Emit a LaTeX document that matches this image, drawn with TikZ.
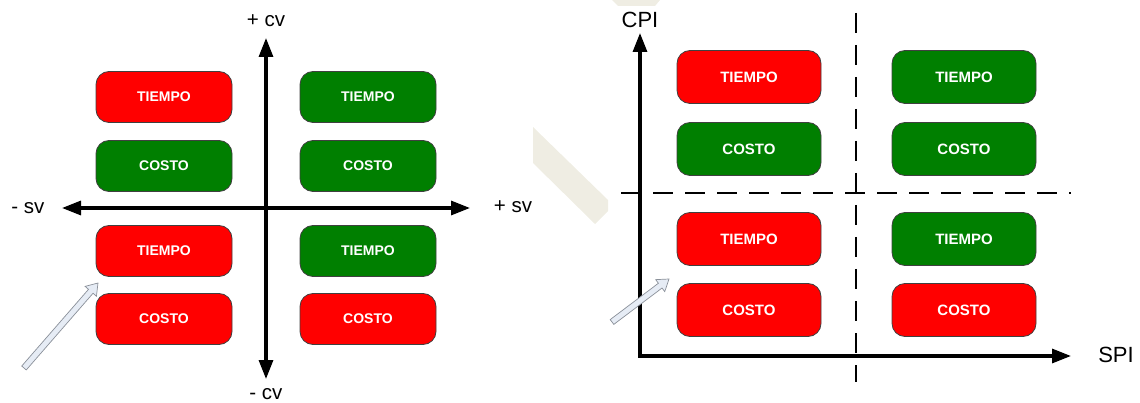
\documentclass[tikz,border=0pt]{standalone}
\usepackage{fontspec}
\setmainfont{Liberation Sans}
\usetikzlibrary{arrows.meta,calc}
\definecolor{boxred}{HTML}{FF0000}
\definecolor{boxgreen}{HTML}{007F00}
\definecolor{hintfill}{HTML}{E6ECF5}
\definecolor{hintline}{HTML}{8A9099}
\definecolor{paper}{HTML}{EFEDE3}

% block arrow drawn from a tail coordinate to a head coordinate
\newcommand{\blockarrow}[2]{%
  \path[hint] ($(#1)!3pt!90:(#2)$)
    -- ($($(#2)!11pt!(#1)$)!3pt!-90:(#1)$)
    -- ($($(#2)!11pt!(#1)$)!7.5pt!-90:(#1)$)
    -- (#2)
    -- ($($(#2)!11pt!(#1)$)!7.5pt!90:(#1)$)
    -- ($($(#2)!11pt!(#1)$)!3pt!90:(#1)$)
    -- ($(#1)!3pt!-90:(#2)$) -- cycle;}

\begin{document}
\begin{tikzpicture}[x=1pt,y=-1pt,
  card/.style={draw=black!75, line width=0.8pt, rounded corners=13pt,
    inner sep=0pt, text=white, font=\fontsize{14}{14}\selectfont\bfseries},
  smallcard/.style={card, minimum width=136pt, minimum height=51pt},
  bigcard/.style={card, minimum width=144pt, minimum height=53pt,
    font=\fontsize{15}{15}\selectfont\bfseries},
  redfill/.style={fill=boxred},
  greenfill/.style={fill=boxgreen},
  mainaxis/.style={line width=3.2pt,
    {Triangle[length=19pt,width=14pt]}-{Triangle[length=19pt,width=14pt]}},
  divider/.style={line width=2pt, dash pattern=on 20pt off 12pt},
  axislabel/.style={inner sep=0pt, font=\fontsize{20.5}{20.5}\selectfont},
  biglabel/.style={inner sep=0pt, font=\fontsize{22}{22}\selectfont},
  hint/.style={fill=hintfill, draw=hintline, line width=0.7pt, line join=miter},
]
\useasboundingbox (0,0) rectangle (1140,403);

% faint background mark
\fill[paper] (533,127) -- (608,200) -- (608,211) -- (595,224) -- (533,163) -- cycle;
\fill[paper] (612,0) -- (660,0) -- (655,6) -- (618,6) -- cycle;

% ---------- left panel: cv / sv ----------
\coordinate (ytop) at (266,38);
\coordinate (ybot) at (266,379);
\coordinate (xleft) at (62,208);
\coordinate (xright) at (470,208);
\draw[mainaxis] (ybot) -- (ytop);
\draw[mainaxis] (xleft) -- (xright);

\node[axislabel] (pcv) at (266,21) {+ cv};
\node[axislabel] (mcv) at (266,394) {- cv};
\node[axislabel] (msv) at (28,208) {- sv};
\node[axislabel] (psv) at (513,207) {+ sv};

\node[smallcard, redfill]   (la1) at (164,97)  {TIEMPO};
\node[smallcard, greenfill] (la2) at (164,166) {COSTO};
\node[smallcard, redfill]   (la3) at (164,251) {TIEMPO};
\node[smallcard, redfill]   (la4) at (164,319) {COSTO};
\node[smallcard, greenfill] (lb1) at (368,97)  {TIEMPO};
\node[smallcard, greenfill] (lb2) at (368,166) {COSTO};
\node[smallcard, greenfill] (lb3) at (368,251) {TIEMPO};
\node[smallcard, redfill]   (lb4) at (368,319) {COSTO};

\coordinate (ltail) at (24,368);
\coordinate (lhead) at (98,283);
\blockarrow{ltail}{lhead}

% ---------- right panel: CPI / SPI ----------
\coordinate (cpitop) at (640,33);
\coordinate (origin) at (640,356);
\coordinate (spiend) at (1071,356);
\draw[mainaxis, {}-{Triangle[length=19pt,width=14pt]}] (origin) -- (spiend);
\draw[mainaxis, {}-{Triangle[length=19pt,width=14pt]}] (origin) -- (cpitop);
\fill (638.4,354.4) rectangle (641.6,357.6);

\coordinate (vtop) at (856,13);
\coordinate (vbot) at (856,382);
\coordinate (hleft) at (621,193);
\coordinate (hright) at (1071,193);
\draw[divider] (vtop) -- (vbot);
\draw[divider] (hleft) -- (hright);

\node[biglabel] (cpi) at (640,20) {CPI};
\node[biglabel] (spi) at (1116,355) {SPI};

\node[bigcard, redfill]   (ra1) at (749,77)  {TIEMPO};
\node[bigcard, greenfill] (ra2) at (749,149) {COSTO};
\node[bigcard, redfill]   (ra3) at (749,239) {TIEMPO};
\node[bigcard, redfill]   (ra4) at (749,310) {COSTO};
\node[bigcard, greenfill] (rb1) at (964,77)  {TIEMPO};
\node[bigcard, greenfill] (rb2) at (964,149) {COSTO};
\node[bigcard, greenfill] (rb3) at (964,239) {TIEMPO};
\node[bigcard, redfill]   (rb4) at (964,310) {COSTO};

\coordinate (rtail) at (612,322);
\coordinate (rhead) at (669,279);
\blockarrow{rtail}{rhead}
\end{tikzpicture}
\end{document}
